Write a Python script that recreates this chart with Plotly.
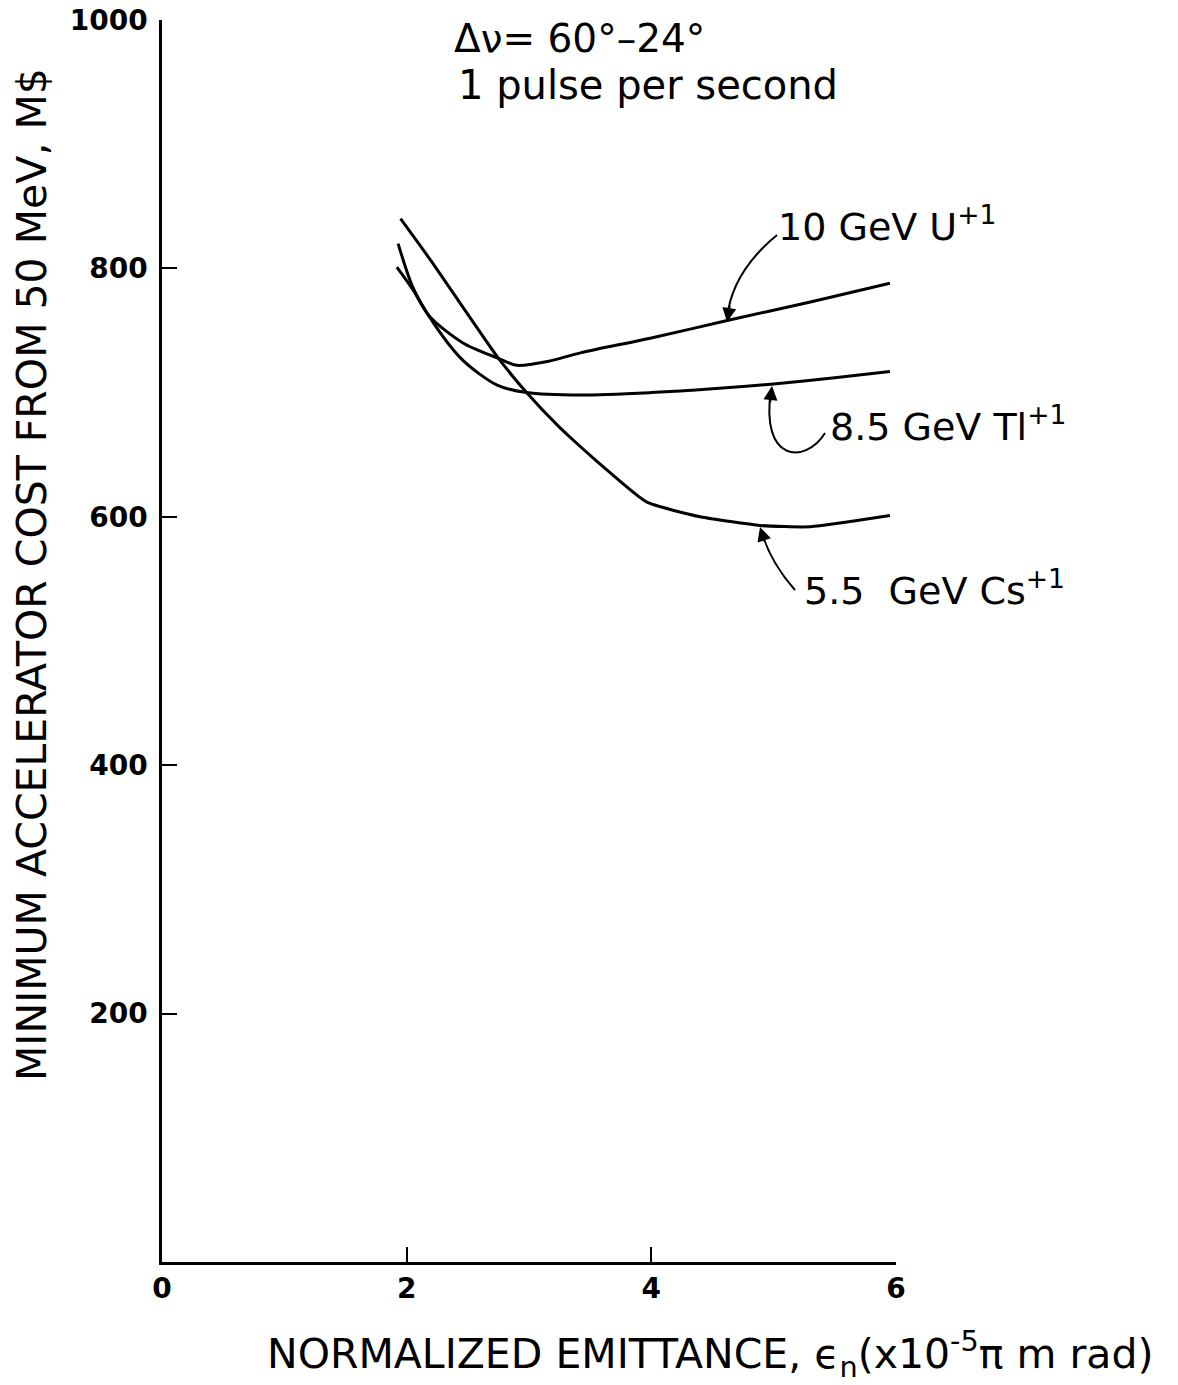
import plotly.graph_objects as go

# ---- data ----
u_x = [1.92, 2.05, 2.19, 2.46, 2.74, 2.90, 3.15, 3.42, 4.0, 4.62, 5.3, 5.95]
u_y = [801, 783, 761, 740, 728, 722, 725, 732, 744, 758, 773, 788]

tl_x = [1.93, 2.05, 2.22, 2.46, 2.74, 2.98, 3.42, 4.0, 4.5, 5.0, 5.5, 5.95]
tl_y = [820, 785, 756, 726, 706, 700, 698, 700, 703, 707, 712, 717]

cs_x = [1.95, 2.2, 2.5, 2.74, 2.98, 3.25, 3.61, 3.96, 4.4, 4.89, 5.3, 5.95]
cs_y = [840, 806, 763, 729, 700, 672, 640, 612, 600, 593, 592, 601]

x_ticks = [0, 2, 4, 6]
x_ticklabels = ["0", "2", "4", "6"]
y_ticks = [200, 400, 600, 800, 1000]
y_ticklabels = ["200", "400", "600", "800", "1000"]

series_names = ["10 GeV U<sup>+1</sup>", "8.5 GeV Tl<sup>+1</sup>", "5.5\u00a0 GeV Cs<sup>+1</sup>"]

FONT = "DejaVu Sans"

fig = go.Figure()
for xs, ys, nm, sm in [(u_x, u_y, series_names[0], 0.8),
                       (tl_x, tl_y, series_names[1], 0.8),
                       (cs_x, cs_y, series_names[2], 0.5)]:
    fig.add_trace(go.Scatter(x=xs, y=ys, mode="lines", name=nm,
                             line=dict(color="black", width=3, shape="spline", smoothing=sm),
                             showlegend=False, hoverinfo="skip"))

# pixel (reference image) -> data helpers for leader geometry
def dx(px):
    return (px - 162) / 122.33

def dy(py):
    return (1262 - py) / 1.242

def pxp(px):
    return (px - 162) / 734

def pyp(py):
    return (1262 - py) / 1242

leaders = [
    "M {},{} Q {},{} {},{}".format(dx(777), dy(235), dx(732), dy(272), dx(727), dy(318)),
    "M {},{} C {},{} {},{} {},{}".format(dx(825), dy(433), dx(805), dy(465), dx(760), dy(462), dx(771), dy(390)),
    "M {},{} Q {},{} {},{}".format(dx(795), dy(590), dx(770), dy(562), dx(761), dy(530)),
]
for p in leaders:
    fig.add_shape(type="path", path=p, xref="x", yref="y",
                  line=dict(color="black", width=2))

# arrow heads
for (tx, ty, ax, ay) in [(727, 322, 3, -18), (772, 386, -2, 18), (760, 527, 5, 16)]:
    fig.add_annotation(x=dx(tx), y=dy(ty), xref="x", yref="y", text="",
                       showarrow=True, ax=ax, ay=ay, arrowhead=2, arrowsize=1.4,
                       arrowwidth=2, arrowcolor="black", standoff=0)

# curve labels
label_pos = [(776, 224), (828, 424), (802, 588)]
for nm, (px, py) in zip(series_names, label_pos):
    fig.add_annotation(x=dx(px), y=dy(py), xref="x", yref="y", text=nm,
                       showarrow=False, xanchor="left", yanchor="middle",
                       font=dict(family=FONT, size=38, color="black"))

# header text
fig.add_annotation(x=pxp(452), y=pyp(39), xref="paper", yref="paper",
                   text="Δν= 60°–24°", showarrow=False, xanchor="left", yanchor="middle",
                   font=dict(family=FONT, size=39, color="black"))
fig.add_annotation(x=pxp(456), y=pyp(85), xref="paper", yref="paper",
                   text="1 pulse per second", showarrow=False, xanchor="left", yanchor="middle",
                   font=dict(family=FONT, size=40, color="black"))

# axis titles
fig.add_annotation(x=pxp(32), y=pyp(575), xref="paper", yref="paper",
                   text="MINIMUM ACCELERATOR COST FROM 50 MeV, M$", textangle=-90,
                   showarrow=False, xanchor="center", yanchor="middle",
                   font=dict(family=FONT, size=41, color="black"))
fig.add_annotation(x=pxp(710), y=pyp(1354), xref="paper", yref="paper",
                   text="NORMALIZED EMITTANCE, ϵ<sub>n</sub>(x10<sup>-5</sup>π m rad)",
                   showarrow=False, xanchor="center", yanchor="middle",
                   font=dict(family=FONT, size=41, color="black"))

fig.update_xaxes(range=[0, 6], tickvals=x_ticks, ticktext=x_ticklabels,
                 showline=True, linecolor="black", linewidth=2.5,
                 ticks="inside", ticklen=15, tickwidth=2, tickcolor="black",
                 showgrid=False, zeroline=False, ticklabeloverflow="allow",
                 automargin=False,
                 tickfont=dict(family=FONT, size=28, color="black", weight="bold"))
fig.update_yaxes(range=[0, 1000], tickvals=y_ticks, ticktext=y_ticklabels,
                 showline=True, linecolor="black", linewidth=2.5,
                 ticks="inside", ticklen=15, tickwidth=2, tickcolor="black",
                 showgrid=False, zeroline=False, ticklabelstandoff=6,
                 ticklabeloverflow="allow", automargin=False,
                 tickfont=dict(family=FONT, size=28, color="black", weight="bold"))

fig.update_layout(width=1178, height=1385,
                  margin=dict(l=154, r=290, t=12, b=131, autoexpand=False),
                  plot_bgcolor="white", paper_bgcolor="white",
                  showlegend=False)

fig.write_html("out.html")
